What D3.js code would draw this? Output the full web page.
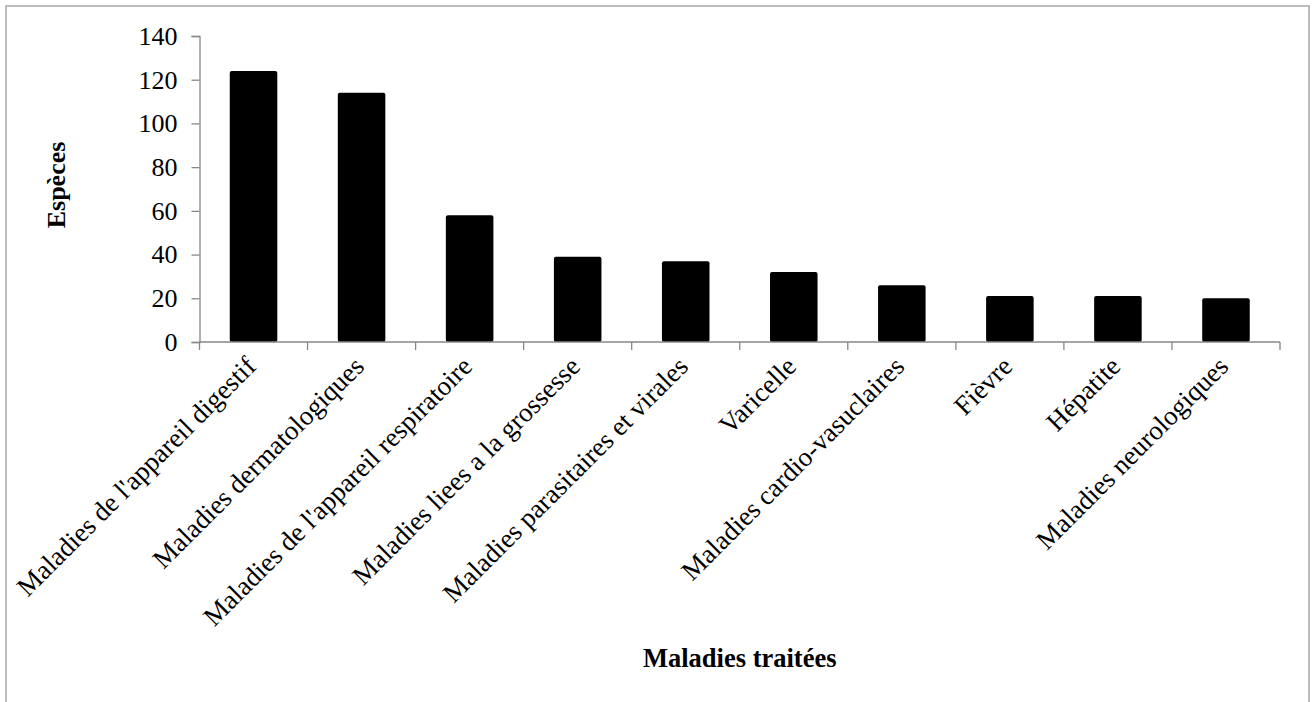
<!DOCTYPE html>
<html>
<head>
<meta charset="utf-8">
<script src="https://cdnjs.cloudflare.com/ajax/libs/d3/7.8.5/d3.min.js"></script>
<style>
  body { margin: 0; background: #fff; }
  svg { display: block; font-family: "Liberation Serif", "Times New Roman", serif; }
</style>
</head>
<body>
<div id="chart"></div>
<script>
// categories and number of species per disease group
var categories = [
    "Maladies de l'appareil digestif",
    "Maladies dermatologiques",
    "Maladies de l'appareil respiratoire",
    "Maladies liees a la grossesse",
    "Maladies parasitaires et virales",
    "Varicelle",
    "Maladies cardio-vasuclaires",
    "Fièvre",
    "Hépatite",
    "Maladies neurologiques"
];
var especes = [124, 114, 58, 39, 37, 32, 26, 21, 21, 20];
var yTicks = [0, 20, 40, 60, 80, 100, 120, 140];

var width = 1314, height = 702;
var plotLeft = 199.5, plotRight = 1280, plotTop = 36, plotBottom = 342;
var axisColor = "#878787";

var svg = d3.select("#chart").append("svg")
    .attr("width", width)
    .attr("height", height);

// outer frame
svg.append("rect")
    .attr("x", 6).attr("y", 6)
    .attr("width", 1303).attr("height", 710)
    .attr("fill", "none")
    .attr("stroke", "#a6a6a6")
    .attr("stroke-width", 1.5);

var x = d3.scaleBand()
    .domain(categories)
    .range([plotLeft, plotRight])
    .paddingInner(0.56)
    .paddingOuter(0.28);

var y = d3.scaleLinear()
    .domain([0, 140])
    .range([plotBottom, plotTop]);

// y axis
var yAxis = svg.append("g")
    .attr("transform", "translate(" + plotLeft + ",0)")
    .call(d3.axisLeft(y).tickValues(yTicks).tickSize(8).tickPadding(14));
yAxis.select(".domain").attr("stroke", axisColor).attr("stroke-width", 1.3);
yAxis.selectAll(".tick line").attr("stroke", axisColor).attr("stroke-width", 1.3);
yAxis.selectAll(".tick text")
    .attr("font-size", "26px")
    .attr("font-family", "Liberation Serif, serif")
    .attr("fill", "#000");

// bars
svg.selectAll("rect.bar")
    .data(especes)
    .enter().append("rect")
    .attr("class", "bar")
    .attr("x", function (d, i) { return x(categories[i]); })
    .attr("y", function (d) { return y(d); })
    .attr("width", x.bandwidth())
    .attr("height", function (d) { return y(0) - y(d); })
    .attr("rx", 2)
    .attr("fill", "#000");

// x axis line with ticks on band boundaries
var step = x.step();
var bounds = d3.range(categories.length + 1).map(function (i) { return plotLeft + i * step; });
svg.append("line")
    .attr("x1", plotLeft).attr("x2", plotRight)
    .attr("y1", y(0)).attr("y2", y(0))
    .attr("stroke", axisColor).attr("stroke-width", 1.3);
svg.selectAll("line.xtick")
    .data(bounds)
    .enter().append("line")
    .attr("class", "xtick")
    .attr("x1", function (d) { return d; }).attr("x2", function (d) { return d; })
    .attr("y1", y(0)).attr("y2", y(0) + 8)
    .attr("stroke", axisColor).attr("stroke-width", 1.3);

// rotated category labels
svg.selectAll("text.cat")
    .data(categories)
    .enter().append("text")
    .attr("class", "cat")
    .attr("text-anchor", "end")
    .attr("font-size", "27px")
    .attr("transform", function (d) {
        var cx = x(d) + x.bandwidth() / 2 + 4;
        return "translate(" + cx + "," + (y(0) + 26) + ") rotate(-45)";
    })
    .text(function (d) { return d; });

// axis titles
svg.append("text")
    .attr("x", (plotLeft + plotRight) / 2)
    .attr("y", 667)
    .attr("text-anchor", "middle")
    .attr("font-size", "26.5px")
    .attr("font-weight", "bold")
    .text("Maladies traitées");

svg.append("text")
    .attr("transform", "translate(65," + ((plotTop + plotBottom) / 2 - 4) + ") rotate(-90)")
    .attr("text-anchor", "middle")
    .attr("font-size", "26px")
    .attr("font-weight", "bold")
    .text("Espèces");
</script>
</body>
</html>
